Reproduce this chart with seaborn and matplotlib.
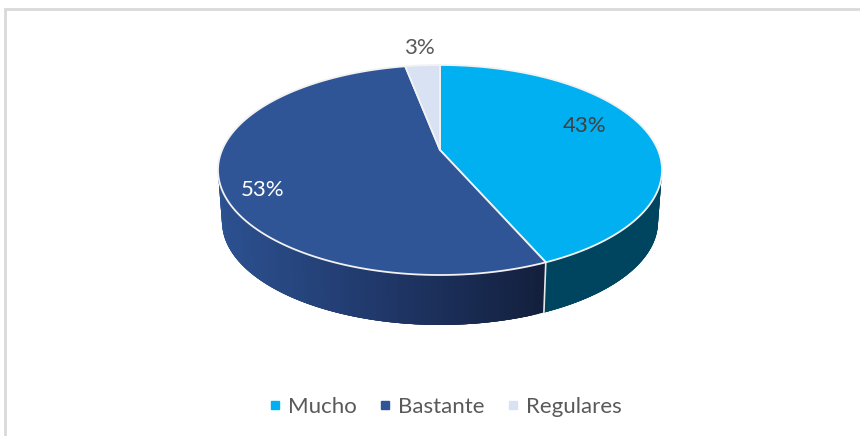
"""Pie 3D de satisfaccion"""

import numpy as np
import seaborn as sns
import matplotlib.pyplot as plt
from matplotlib.lines import Line2D

categories = ["Mucho", "Bastante", "Regulares"]
values = [43, 53, 3]
value_labels = ["43%", "53%", "3%"]
top_colors = ["#00b0f0", "#2f5597", "#d9e2f3"]
wall_colors = [["#004560", "#004560"], ["#2c5190", "#20386a", "#131f3c"], ["#c4cddd", "#c4cddd"]]
label_colors = ["#404040", "#ffffff", "#595959"]
label_pos = [(585, 126), (263, 190), (419, 48)]

# geometrie de l'ellipse, en pixels de l'image
CX, CY, RX, RY = 440, 170, 222, 105
BOT_CY, BOT_RX, BOT_RY = 222, 218, 103
PERSP = 0.19  # le sommet des parts remonte a cause de la perspective


def rim(angle, cy=CY, rx=RX, ry=RY):
    """Point du bord, angle en radians depuis le haut, sens horaire."""
    u, v = np.sin(angle), np.cos(angle)
    d = 1 + PERSP * v
    return CX + rx * u * np.sqrt(1 - PERSP ** 2) / d, cy - ry * (v + PERSP) / d


sns.set_theme(style="white")
plt.rcParams["font.family"] = ["Lato", "DejaVu Sans"]

fig, ax = plt.subplots(figsize=(8.6, 4.36), dpi=100)
ax.set_position([0, 0, 1, 1])
ax.set_xlim(0, 860)
ax.set_ylim(436, 0)
ax.axis("off")

# cadre du graphique
ax.plot([5, 5, 860], [436, 9, 9], color="#d9d9d9", lw=2, solid_joinstyle="miter")

edges = np.cumsum([0] + values) / sum(values) * 2 * np.pi

# paroi : seulement la moitie basse se voit
for i, cat in enumerate(categories):
    ts = np.linspace(edges[i], edges[i + 1], 160)
    ts = ts[rim(ts)[1] >= CY]
    if len(ts) < 2:
        continue
    pal = sns.blend_palette(wall_colors[i], 120)
    x_top, y_top = rim(ts)
    x_bot, y_bot = rim(ts, BOT_CY, BOT_RX, BOT_RY)
    lo, hi = x_bot.min(), x_bot.max()
    for j in range(len(ts) - 1):
        c = pal[int((x_bot[j] - lo) / (hi - lo) * 119)]
        # on deborde sur la tranche suivante pour eviter les rayures
        k = min(j + 4, len(ts) - 1)
        ax.fill([x_top[j], x_top[k], x_bot[k], x_bot[j]],
                [y_top[j], y_top[k], y_bot[k], y_bot[j]],
                color=c, lw=0, zorder=2)

# couture blanche sur la paroi
sx0, sy0 = rim(edges[1])
sx1, sy1 = rim(edges[1], BOT_CY, BOT_RX, BOT_RY)
ax.plot([sx0, sx1], [sy0, sy1], color="#e8e8e8", lw=1.2, zorder=3)

# dessus du camembert
apex = (CX, CY - RY * PERSP)
for i, cat in enumerate(categories):
    ts = np.linspace(edges[i], edges[i + 1], 200)
    xs, ys = rim(ts)
    ax.fill(np.r_[apex[0], xs], np.r_[apex[1], ys], facecolor=top_colors[i],
            edgecolor="#f2f2f2", lw=1.3, joinstyle="round", zorder=4)

for lab, col, pos in zip(value_labels, label_colors, label_pos):
    ax.text(pos[0], pos[1], lab, color=col, fontsize=16, ha="center", va="center", zorder=5)

handles = [Line2D([], [], ls="none", marker="s", ms=6, color=c) for c in top_colors]
ax.legend(handles, categories, loc="center", bbox_to_anchor=(445 / 860, 1 - 407 / 436),
          ncols=3, frameon=False, fontsize=16, labelcolor="#595959",
          handlelength=0.6, handletextpad=0.3, columnspacing=0.95)

fig.savefig("out.png", dpi=100)
